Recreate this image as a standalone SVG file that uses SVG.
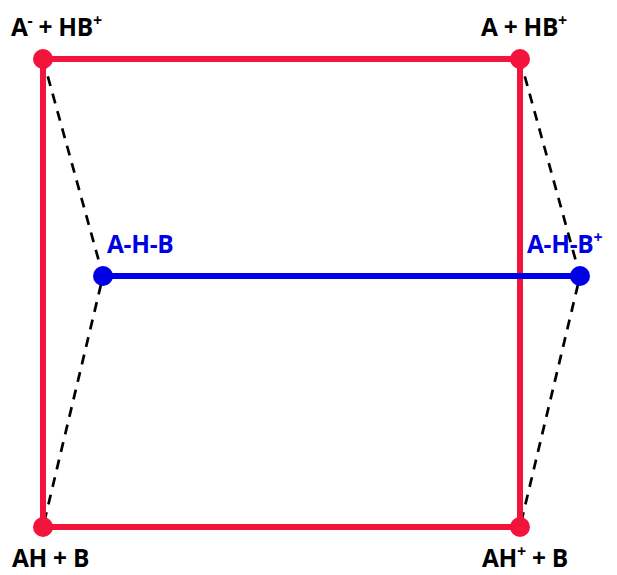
<svg xmlns="http://www.w3.org/2000/svg" width="617" height="575" viewBox="0 0 617 575">
<style>
.lbl{font-family:"Open Sans","Liberation Sans",sans-serif;font-weight:bold;font-size:24.5px;fill:#000;letter-spacing:-0.3px}
.blu{fill:#0000e6}
.sup{font-size:16px}
.red{stroke:#f2143a;stroke-width:6;fill:none}
.bl{stroke:#0000e6;stroke-width:6;fill:none}
.dash{stroke:#000;stroke-width:2.7;stroke-dasharray:10,8;fill:none}
.rdot{fill:#f2143a}
.bdot{fill:#0000e6}
</style>
<rect width="617" height="575" fill="#fff"/>
<g id="connectors">
<path class="dash" d="M43,59 L103,276 L43,527"/>
<path class="dash" d="M520,59 L580,276 L520,527"/>
<path class="red" d="M43,59 H520 V527 H43 Z"/>
<path class="bl" d="M103,276 H580"/>
</g>
<g id="n1"><circle class="rdot" cx="43" cy="59" r="10"/><text class="lbl" x="11" y="36">A<tspan class="sup" dy="-10">-</tspan><tspan dy="10"> + HB</tspan><tspan class="sup" dy="-10">+</tspan></text></g>
<g id="n2"><circle class="rdot" cx="520" cy="59" r="10"/><text class="lbl" x="481" y="36">A + HB<tspan class="sup" dy="-10">+</tspan></text></g>
<g id="n3"><circle class="bdot" cx="103" cy="276" r="10"/><text class="lbl blu" x="107" y="253">A-H-B</text></g>
<g id="n4"><circle class="bdot" cx="580" cy="276" r="10"/><text class="lbl blu" x="527" y="253">A-H-B<tspan class="sup" dy="-10">+</tspan></text></g>
<g id="n5"><circle class="rdot" cx="43" cy="527" r="10"/><text class="lbl" x="12" y="567">AH + B</text></g>
<g id="n6"><circle class="rdot" cx="520" cy="527" r="10"/><text class="lbl" x="482" y="567">AH<tspan class="sup" dy="-10">+</tspan><tspan dy="10"> + B</tspan></text></g>
</svg>
